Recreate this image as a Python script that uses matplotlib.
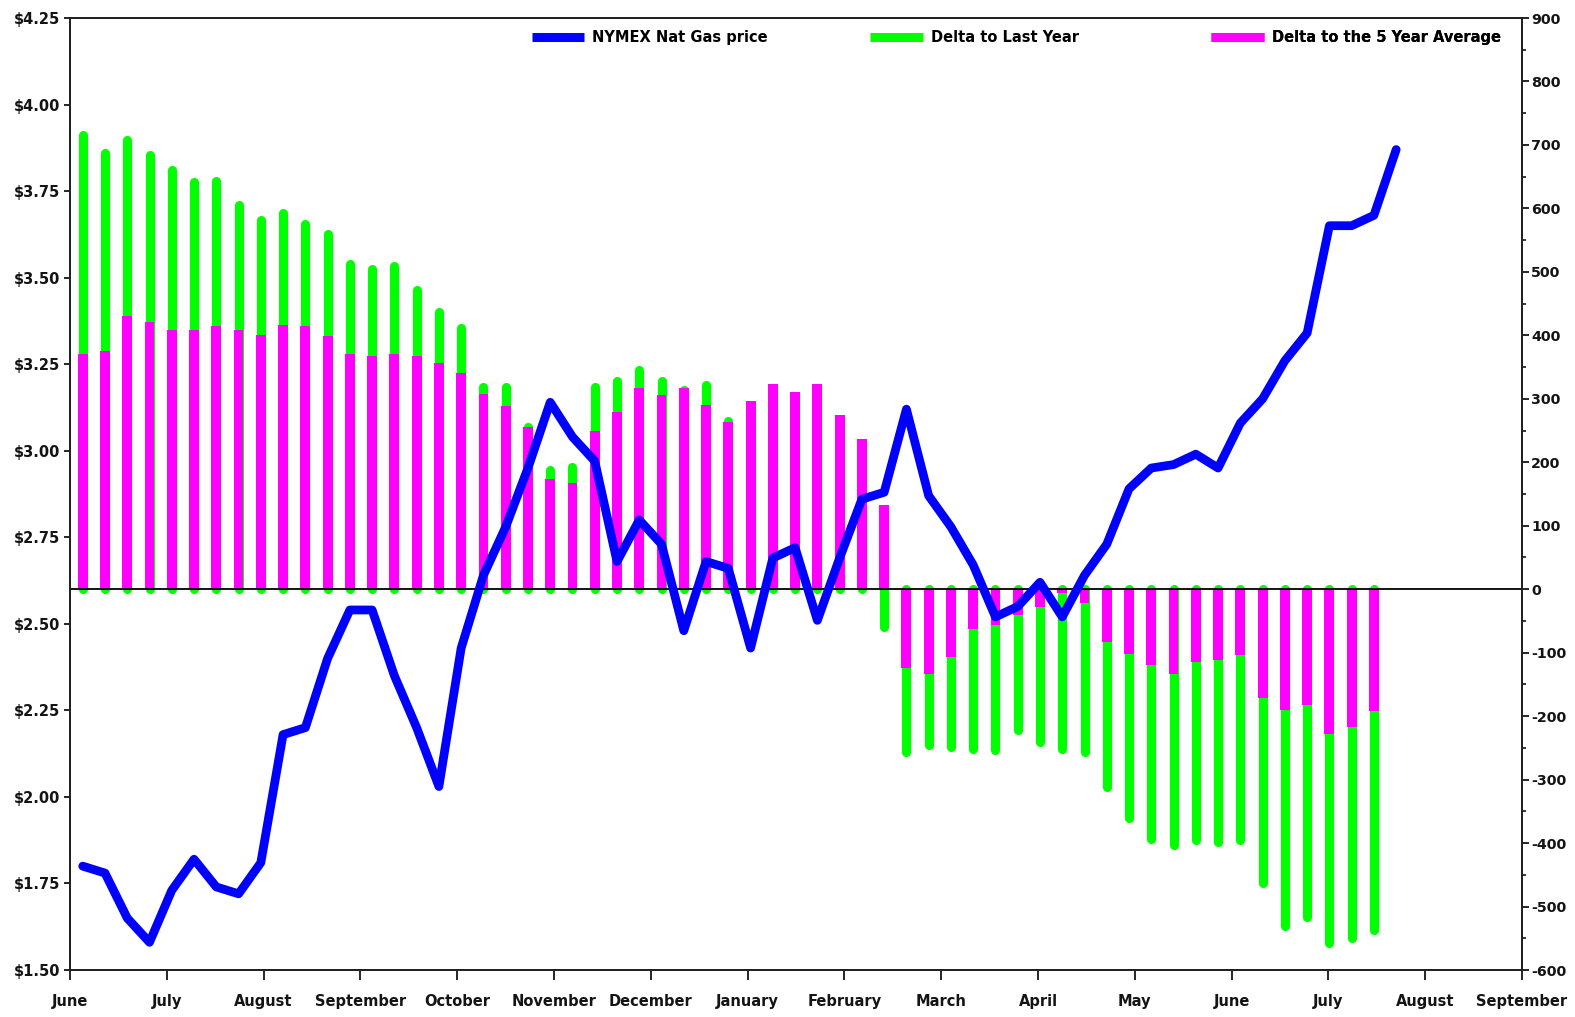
import matplotlib
matplotlib.use('Agg')
import matplotlib.pyplot as plt
from matplotlib.lines import Line2D
from matplotlib.ticker import FuncFormatter, MultipleLocator
import numpy as np

# weekly observations, first one on June 4
months = ['June', 'July', 'August', 'September', 'October', 'November', 'December',
          'January', 'February', 'March', 'April', 'May', 'June', 'July', 'August', 'September']

nymex_price = [1.80, 1.78, 1.65, 1.58, 1.73, 1.82, 1.74, 1.72, 1.81, 2.18,
               2.20, 2.40, 2.54, 2.54, 2.35, 2.20, 2.03, 2.43, 2.64, 2.78,
               2.95, 3.14, 3.04, 2.97, 2.68, 2.80, 2.73, 2.48, 2.68, 2.66,
               2.43, 2.69, 2.72, 2.51, 2.69, 2.86, 2.88, 3.12, 2.87, 2.78,
               2.67, 2.52, 2.55, 2.62, 2.52, 2.64, 2.73, 2.89, 2.95, 2.96,
               2.99, 2.95, 3.08, 3.15, 3.26, 3.34, 3.65, 3.65, 3.68, 3.87]

delta_last_year = [716, 687, 708, 684, 661, 642, 643, 606, 582, 593,
                   576, 560, 513, 505, 510, 472, 437, 412, 319, 318,
                   256, 188, 193, 319, 328, 346, 328, 314, 322, 265,
                   230, 190, 150, 110, 60, 10, -60, -256, -245, -249,
                   -252, -254, -222, -240, -251, -256, -311, -361, -393, -403,
                   -395, -399, -395, -463, -530, -517, -557, -549, -537]

delta_5yr_avg = [371, 375, 430, 421, 408, 408, 414, 409, 401, 417,
                 414, 399, 371, 368, 371, 368, 357, 341, 308, 288,
                 255, 173, 167, 250, 279, 317, 306, 317, 290, 263,
                 297, 323, 310, 323, 275, 236, 132, -124, -133, -107,
                 -62, -56, -40, -28, -6, -22, -83, -102, -120, -133,
                 -115, -112, -104, -172, -190, -182, -228, -217, -192]

days_in = 4 + 7 * np.arange(len(nymex_price))
x_line = days_in / 30.4375
x_bar = x_line[:len(delta_5yr_avg)]

blue = '#0000ff'
green = '#00ff00'
magenta = '#ff00ff'
txt = '#141414'

plt.rcParams['font.family'] = 'DejaVu Sans'
plt.rcParams['font.weight'] = 'bold'
plt.rcParams['font.size'] = 10.5
plt.rcParams['axes.unicode_minus'] = False

fig = plt.figure(figsize=(15.75, 10.17), dpi=100)
ax = fig.add_axes([70 / 1575, 1 - 970 / 1017, 1452 / 1575, 952 / 1017])

ax.vlines(x_bar, 0, delta_last_year, colors=green, linewidth=6.6,
          capstyle='round', zorder=1)
ax.bar(x_bar, delta_5yr_avg, width=0.102, color=magenta, zorder=2)
ax.axhline(0, color='black', lw=1.3, zorder=3)

ax.set_xlim(0, 15)
ax.set_ylim(-600, 900)
ax.set_xticks(range(len(months)))
ax.set_xticklabels(months)
ax.set_yticks(range(-600, 901, 100))
ax.yaxis.set_minor_locator(MultipleLocator(50))

ax2 = ax.twinx()
ax2.plot(x_line, nymex_price, color=blue, lw=6.3,
         solid_joinstyle='round', solid_capstyle='round', zorder=4)
ax2.set_ylim(1.5, 4.25)
ax2.set_yticks(np.arange(1.5, 4.26, 0.25))
ax2.yaxis.set_major_formatter(FuncFormatter(lambda v, p: f'${v:.2f}'))

ax.yaxis.tick_right()
ax2.yaxis.tick_left()

ax.tick_params(axis='x', direction='out', length=7, width=1.3, pad=10, colors=txt)
ax.tick_params(axis='y', which='major', direction='out', length=5, width=1.3, pad=1.5,
               colors=txt, labelsize=10.3)
ax.tick_params(axis='y', which='minor', direction='out', length=3, width=1.1)
ax2.tick_params(axis='y', direction='out', length=4, width=1.3, pad=3, colors=txt)

for a in (ax, ax2):
    for s in a.spines.values():
        s.set_linewidth(1.4)
        s.set_color('#222222')

# legend, three entries spread along the top
entries = [('NYMEX Nat Gas price', blue, 0.318),
           ('Delta to Last Year', green, 0.551),
           ('Delta to the 5 Year Average', magenta, 0.786)]
for label, col, xpos in entries:
    h = Line2D([], [], color=col, lw=6.5, solid_capstyle='butt')
    leg = ax2.legend([h], [label], loc='center left', bbox_to_anchor=(xpos, 0.979),
                     frameon=False, borderpad=0, borderaxespad=0,
                     handlelength=3.6, handletextpad=0.55, fontsize=10.5)
    ax2.add_artist(leg)

fig.savefig('out.png', dpi=100)
